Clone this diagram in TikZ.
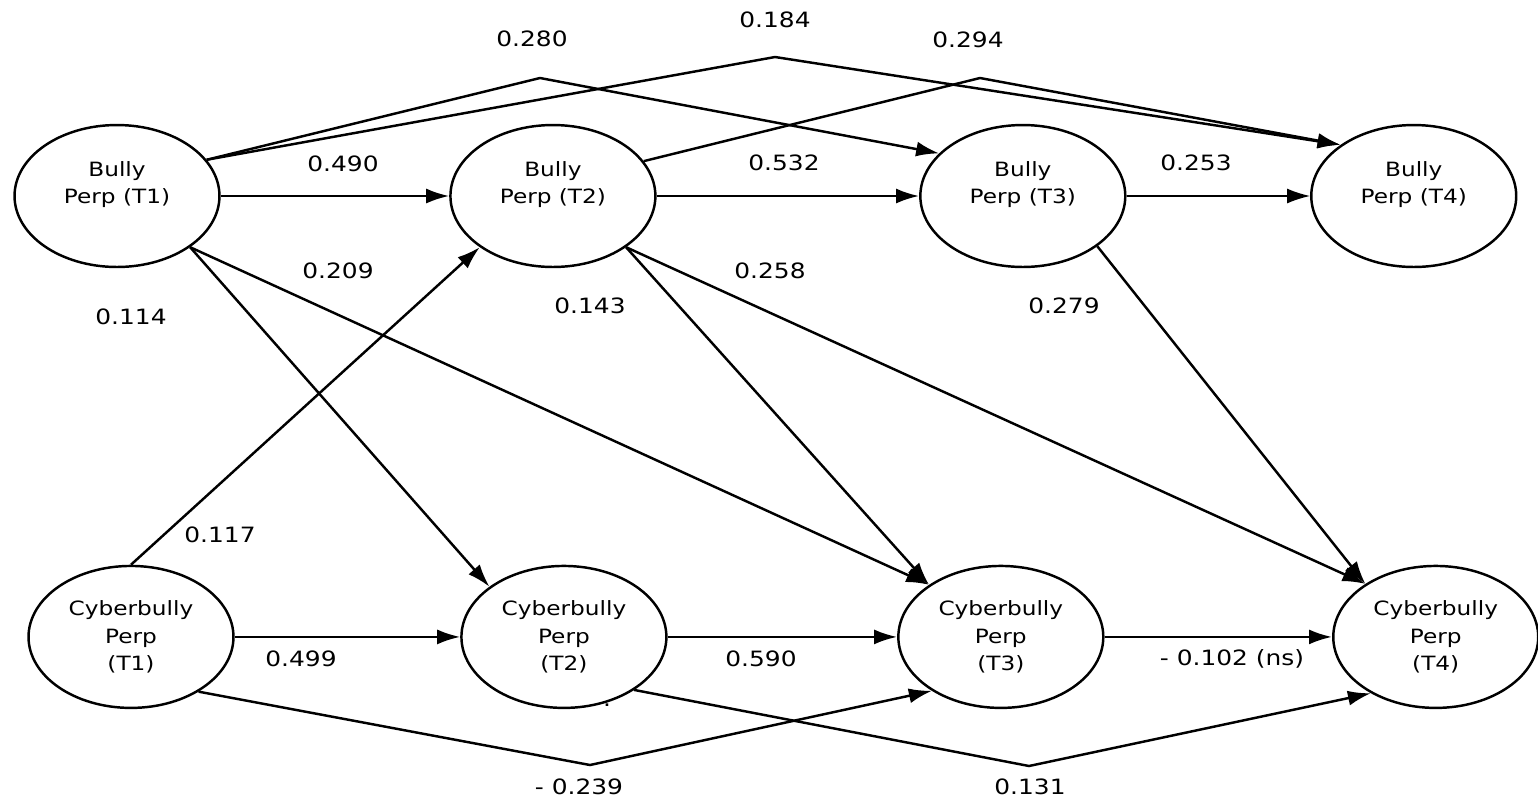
\documentclass[tikz,border=0pt]{standalone}
\usepackage{fontspec}
\setmainfont{DejaVu Sans}[FakeStretch=1.18]
\usetikzlibrary{positioning, shapes.geometric, arrows.meta}

\begin{document}
\begin{tikzpicture}[x=0.02cm, y=-0.02cm, on grid, line width=1.4pt,
    >={Latex[length=0.46cm,width=0.3cm]},
    latent/.style={ellipse, draw, minimum width=4.1cm, minimum height=2.84cm,
      inner sep=0pt, align=center, font=\fontsize{11.2}{15.5}\selectfont},
    coef/.style={inner sep=1pt, font=\fontsize{12}{14}\selectfont}]
		\useasboundingbox (0,0) rectangle (1538,799);
		% bully perpetration, T1 to T4
		\node[latent] (b_1) at (117,196) {Bully\\Perp (T1)\\~};
		\node[latent] (b_2) [right=8.72cm of b_1] {Bully\\Perp (T2)\\~};
		\node[latent] (b_3) [right=9.4cm of b_2] {Bully\\Perp (T3)\\~};
		\node[latent] (b_4) [right=7.82cm of b_3] {Bully\\Perp (T4)\\~};
		% cyberbully perpetration, T1 to T4
		\node[latent] (c_1) [below=8.82cm of b_1, xshift=0.28cm] {Cyberbully\\Perp\\(T1)};
		\node[latent] (c_2) [right=8.66cm of c_1] {Cyberbully\\Perp\\(T2)};
		\node[latent] (c_3) [right=8.74cm of c_2] {Cyberbully\\Perp\\(T3)};
		\node[latent] (c_4) [right=8.7cm of c_3] {Cyberbully\\Perp\\(T4)};

		\coordinate (k_280) at (540,78);
		\coordinate (k_184) at (775,57);
		\coordinate (k_294) at (980,78);
		\coordinate (k_239) at (590,765);
		\coordinate (k_131) at (1029,766);

		\path[->] 
		(b_1) edge (b_2)
		(b_2) edge (b_3)
		(b_3) edge [line width=0.8pt] (b_4)
		
		(c_1) edge (c_2)
		(c_2) edge (c_3)
		(c_3) edge (c_4)
		
		(b_1.325) edge (c_2.146)
		(b_1.325) edge (c_3.144)
		(c_1.north) edge (b_2.215)
		(b_2.325) edge (c_3.144)
		(b_2.325) edge (c_4.143)
		(b_3.326) edge (c_4.143)
		;
		
		\draw[->] (b_1.22) -- (k_280) -- (b_3.153);
		\draw[->] (b_1.22) -- (k_184) -- (b_4.145);
		\draw[->] (b_2.21) -- (k_294) -- (b_4.145);
		\draw[->] (c_1.321) -- (k_239) -- (c_3.218);
		\draw[->] (c_2.323) -- (k_131) -- (c_4.221);

		% path coefficients
		\node[coef] (l_184) at (775,20) {0.184};
		\node[coef] (l_280) at (532,39) {0.280};
		\node[coef] (l_294) at (968,40) {0.294};
		\node[coef] (l_490) at (343,164) {0.490};
		\node[coef] (l_532) at (784,163) {0.532};
		\node[coef] (l_253) at (1196,163) {0.253};
		\node[coef] (l_209) at (338,271) {0.209};
		\node[coef] (l_258) at (770,271) {0.258};
		\node[coef] (l_114) at (131,317) {0.114};
		\node[coef] (l_143) at (590,306) {0.143};
		\node[coef] (l_279) at (1064,306) {0.279};
		\node[coef] (l_117) at (220,535) {0.117};
		\node[coef] (l_499) at (301,659) {0.499};
		\node[coef] (l_590) at (761,659) {0.590};
		\node[coef] (l_102) at (1232,659) {- 0.102 (ns)};
		\node[coef] (l_239) at (579,787) {- 0.239};
		\node[coef] (l_131) at (1030,787) {0.131};
		\node[coef] (dot) at (607,705) {.};
\end{tikzpicture}
\end{document}
